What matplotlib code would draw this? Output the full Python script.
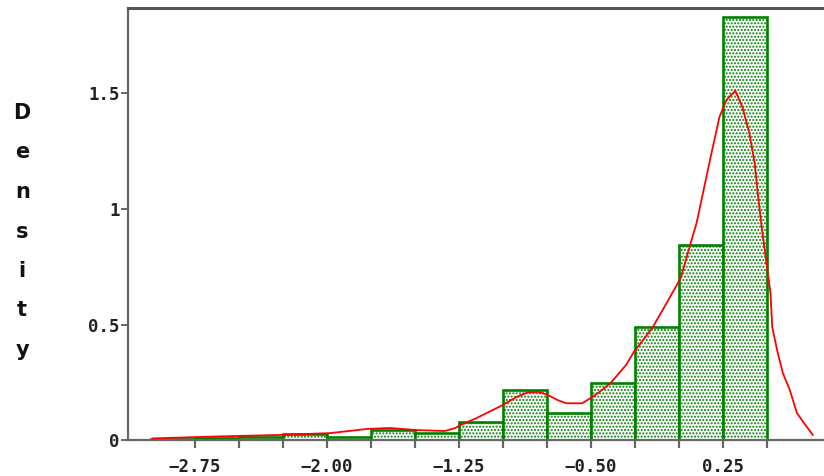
import numpy as np
import matplotlib.pyplot as plt

# histogram bins (left edges) and density heights
bin_left = [-3.0, -2.75, -2.5, -2.25, -2.0, -1.75, -1.5, -1.25,
            -1.0, -0.75, -0.5, -0.25, 0.0, 0.25]
density = [0.004, 0.008, 0.012, 0.027, 0.014, 0.045, 0.030, 0.077,
           0.216, 0.117, 0.248, 0.489, 0.846, 1.832]
bin_width = 0.25

# kernel density curve
kde_x = [-2.99, -2.64, -2.26, -1.98, -1.77, -1.64, -1.49, -1.33, -1.27, -1.24,
         -1.15, -1.02, -0.92, -0.86, -0.80, -0.75, -0.69, -0.64, -0.55, -0.49,
         -0.45, -0.39, -0.30, -0.26, -0.15, -0.07, 0.01, 0.06, 0.10, 0.14,
         0.18, 0.23, 0.27, 0.32, 0.36, 0.40, 0.43, 0.45, 0.47, 0.50,
         0.52, 0.53, 0.56, 0.59, 0.63, 0.67, 0.71, 0.76]
kde_y = [0.007, 0.015, 0.022, 0.030, 0.048, 0.052, 0.043, 0.039, 0.052, 0.065,
         0.095, 0.144, 0.187, 0.206, 0.208, 0.197, 0.173, 0.159, 0.159, 0.187,
         0.209, 0.245, 0.325, 0.377, 0.487, 0.593, 0.701, 0.835, 0.939, 1.082,
         1.225, 1.398, 1.472, 1.512, 1.442, 1.329, 1.199, 1.052, 0.922, 0.749,
         0.636, 0.489, 0.381, 0.290, 0.216, 0.117, 0.074, 0.022]

xtick_major = [-2.75, -2.0, -1.25, -0.5, 0.25]
xtick_labels = ["\u22122.75", "\u22122.00", "\u22121.25", "\u22120.50", "0.25"]
xtick_minor = [-2.75, -2.5, -2.25, -2.0, -1.75, -1.5, -1.25, -1.0,
               -0.75, -0.5, -0.25, 0.0, 0.25, 0.5]
ytick_vals = [0, 0.5, 1, 1.5]
ytick_labels = ["0", "0.5", "1", "1.5"]
ylabel = "Density"

green = "#008000"
plt.rcParams["hatch.color"] = green
plt.rcParams["hatch.linewidth"] = 1.0

fig = plt.figure(figsize=(8.24, 4.76), dpi=100)
ax = fig.add_axes([0.1553, 0.0756, 0.8447, 0.9076])

ax.bar(bin_left, density, width=bin_width, align="edge",
       facecolor="white", edgecolor=green, hatch=".....", linewidth=1.9,
       zorder=2)
ax.plot(kde_x, kde_y, color="#ff0000", linewidth=1.3, zorder=3)

ax.set_xlim(-3.13, 0.824)
ax.set_ylim(0, 1.87)

ax.set_xticks(xtick_minor, minor=True)
ax.set_xticks(xtick_major)
ax.set_xticklabels(xtick_labels)
ax.set_yticks(ytick_vals)
ax.set_yticklabels(ytick_labels)

for lab in ax.get_xticklabels() + ax.get_yticklabels():
    lab.set_fontfamily("DejaVu Sans Mono")
    lab.set_fontsize(12.5)
    lab.set_fontweight("bold")
    lab.set_color("#222222")

ax.tick_params(axis="x", which="both", length=6, width=1.6, color="#666666", pad=7)
ax.tick_params(axis="y", length=5, width=1.4, color="#666666", pad=1)

for side in ["left", "bottom"]:
    ax.spines[side].set_color("#666666")
    ax.spines[side].set_linewidth(1.6)
ax.spines["top"].set_color("#555555")
ax.spines["top"].set_linewidth(2.2)
ax.spines["right"].set_visible(False)

# stacked vertical axis title
for i, ch in enumerate(ylabel):
    fig.text(0.027, 1 - (113 + 39.5 * i) / 476, ch, ha="center", va="center",
             fontsize=15, fontweight="bold", family="DejaVu Sans",
             color="#111111")

fig.savefig("out.png", dpi=100)
